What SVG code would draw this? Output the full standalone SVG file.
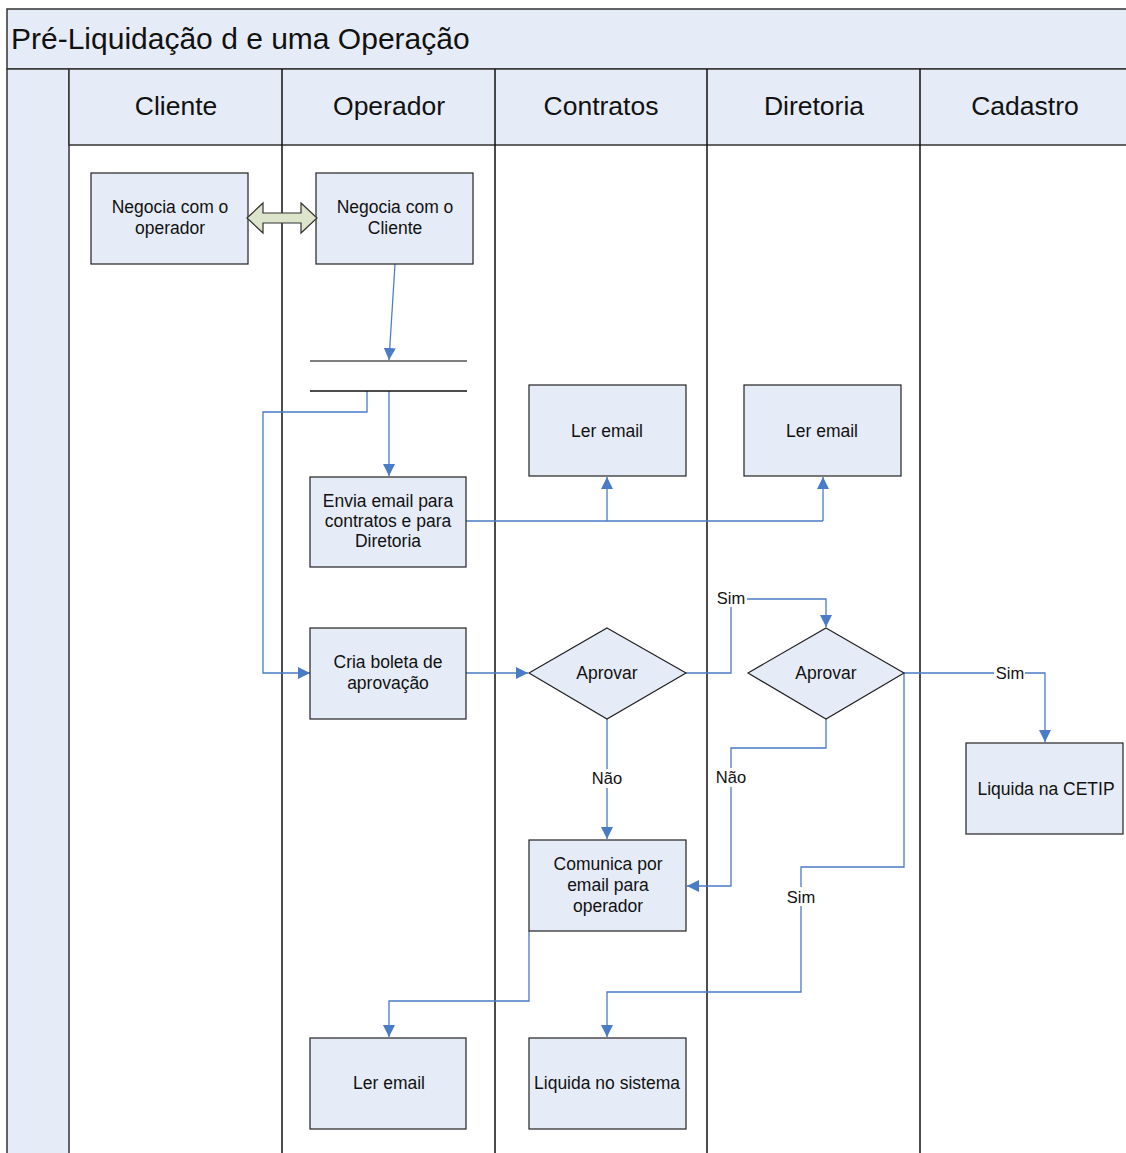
<svg xmlns="http://www.w3.org/2000/svg" width="1126" height="1153" viewBox="0 0 1126 1153">
  <style>
    .band { fill: #E6ECF7; stroke: #333; stroke-width: 1.5; }
    .lane { stroke: #111; stroke-width: 1.5; fill: none; }
    .box { fill: #E6ECF7; stroke: #222; stroke-width: 1.2; }
    .t { font-family: "Liberation Sans", Arial, sans-serif; fill: #111; text-anchor: middle; }
    .n { font-size: 17.5px; }
    .h { font-size: 26.5px; }
    .c { stroke: #4A7BC6; stroke-width: 1.3; fill: none; }
    .ca { stroke: #4A7BC6; stroke-width: 1.3; fill: none; marker-end: url(#ah); }
    .lbl { font-family: "Liberation Sans", Arial, sans-serif; font-size: 16.5px; fill: #111; text-anchor: middle; }
    .lblbg { fill: #fff; }
  </style>
  <defs>
    <marker id="ah" viewBox="0 0 12 12" refX="12" refY="6" markerWidth="12" markerHeight="12" markerUnits="userSpaceOnUse" orient="auto">
      <path d="M0,0 L12,6 L0,12 z" fill="#4A7BC6"/>
    </marker>
  </defs>
  <rect width="1126" height="1153" fill="#fff"/>

  <!-- pool frame -->
  <g id="pool">
    <rect class="band" x="7" y="9" width="1125" height="60"/>
    <text x="11" y="49" font-family="Liberation Sans, Arial, sans-serif" font-size="30" fill="#111">Pré-Liquidação d e uma Operação</text>
    <rect class="band" x="7" y="69" width="62" height="1090"/>
    <rect class="band" x="69" y="69" width="1063" height="76"/>
    <line class="lane" x1="282" y1="69" x2="282" y2="1153"/>
    <line class="lane" x1="495" y1="69" x2="495" y2="1153"/>
    <line class="lane" x1="707" y1="69" x2="707" y2="1153"/>
    <line class="lane" x1="920" y1="69" x2="920" y2="1153"/>
    <text class="t h" x="176" y="115">Cliente</text>
    <text class="t h" x="389" y="115">Operador</text>
    <text class="t h" x="601" y="115">Contratos</text>
    <text class="t h" x="814" y="115">Diretoria</text>
    <text class="t h" x="1025" y="115">Cadastro</text>
  </g>

  <!-- connectors -->
  <g id="connectors">
    <path class="ca" d="M395,264 L389,360"/>
    <path class="ca" d="M389,391 L389,476"/>
    <path class="ca" d="M367,391 L367,412 L263,412 L263,673 L310,673"/>
    <path class="c" d="M466,521 L823,521"/>
    <path class="ca" d="M607,521 L607,477"/>
    <path class="ca" d="M823,521 L823,477"/>
    <path class="ca" d="M466,673 L528,673"/>
    <path class="ca" d="M686,673 L731,673 L731,599 L826,599 L826,627"/>
    <path class="ca" d="M607,719 L607,839"/>
    <path class="ca" d="M904,673 L1045,673 L1045,742"/>
    <path class="ca" d="M826,719 L826,748 L731,748 L731,886 L687,886"/>
    <path class="ca" d="M904,673 L904,867 L801,867 L801,992 L607,992 L607,1037"/>
    <path class="ca" d="M529,931 L529,1001 L389,1001 L389,1037"/>
    <!-- edge labels -->
    <rect class="lblbg" x="716" y="588" width="31" height="19"/>
    <text class="lbl" x="731" y="604">Sim</text>
    <rect class="lblbg" x="589" y="769" width="36" height="19"/>
    <text class="lbl" x="607" y="784">Não</text>
    <rect class="lblbg" x="994" y="663" width="31" height="19"/>
    <text class="lbl" x="1010" y="679">Sim</text>
    <rect class="lblbg" x="713" y="768" width="36" height="19"/>
    <text class="lbl" x="731" y="783">Não</text>
    <rect class="lblbg" x="785" y="887" width="31" height="19"/>
    <text class="lbl" x="801" y="903">Sim</text>
  </g>

  <!-- nodes -->
  <g id="n-negocia-operador">
    <rect class="box" x="91" y="173" width="157" height="91"/>
    <text class="t n" x="170" y="213">Negocia com o</text>
    <text class="t n" x="170" y="234">operador</text>
  </g>
  <g id="n-negocia-cliente">
    <rect class="box" x="316" y="173" width="157" height="91"/>
    <text class="t n" x="395" y="213">Negocia com o</text>
    <text class="t n" x="395" y="234">Cliente</text>
  </g>
  <g id="n-negociacao">
    <path d="M247,218 L263,203 L263,213 L301,213 L301,203 L317,218 L301,233 L301,223 L263,223 L263,233 Z" fill="#DDE4CC" stroke="#333" stroke-width="1.2"/>
  </g>
  <g id="n-fork">
    <line x1="310" y1="361" x2="467" y2="361" stroke="#555" stroke-width="1.3"/>
    <line x1="310" y1="391" x2="467" y2="391" stroke="#111" stroke-width="1.3"/>
  </g>
  <g id="n-envia-email">
    <rect class="box" x="310" y="477" width="156" height="90"/>
    <text class="t n" x="388" y="507">Envia email para</text>
    <text class="t n" x="388" y="527">contratos e para</text>
    <text class="t n" x="388" y="547">Diretoria</text>
  </g>
  <g id="n-ler-email-contratos">
    <rect class="box" x="529" y="385" width="157" height="91"/>
    <text class="t n" x="607" y="437">Ler email</text>
  </g>
  <g id="n-ler-email-diretoria">
    <rect class="box" x="744" y="385" width="157" height="91"/>
    <text class="t n" x="822" y="437">Ler email</text>
  </g>
  <g id="n-cria-boleta">
    <rect class="box" x="310" y="628" width="156" height="91"/>
    <text class="t n" x="388" y="668">Cria boleta de</text>
    <text class="t n" x="388" y="689">aprovação</text>
  </g>
  <g id="n-aprovar-contratos">
    <polygon class="box" points="607,628 686,673 607,719 529,673"/>
    <text class="t n" x="607" y="679">Aprovar</text>
  </g>
  <g id="n-aprovar-diretoria">
    <polygon class="box" points="826,628 904,673 826,719 748,673"/>
    <text class="t n" x="826" y="679">Aprovar</text>
  </g>
  <g id="n-liquida-cetip">
    <rect class="box" x="966" y="743" width="157" height="91"/>
    <text class="t n" x="1046" y="795">Liquida na CETIP</text>
  </g>
  <g id="n-comunica">
    <rect class="box" x="529" y="840" width="157" height="91"/>
    <text class="t n" x="608" y="870">Comunica por</text>
    <text class="t n" x="608" y="891">email para</text>
    <text class="t n" x="608" y="912">operador</text>
  </g>
  <g id="n-ler-email-operador">
    <rect class="box" x="310" y="1038" width="156" height="91"/>
    <text class="t n" x="389" y="1089">Ler email</text>
  </g>
  <g id="n-liquida-sistema">
    <rect class="box" x="529" y="1038" width="157" height="91"/>
    <text class="t n" x="607" y="1089">Liquida no sistema</text>
  </g>
</svg>
